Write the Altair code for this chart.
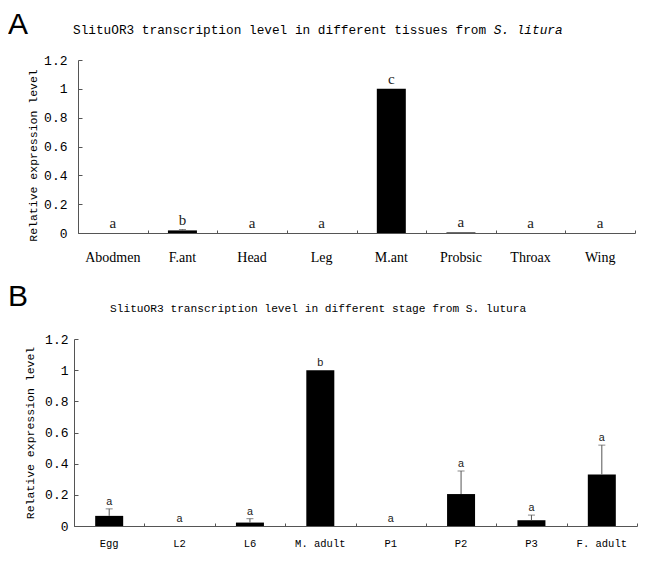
import altair as alt
import pandas as pd

# ---------------- data ----------------
tissues = ["Abodmen", "F.ant", "Head", "Leg", "M.ant", "Probsic", "Throax", "Wing"]
tissue_values = [0.0, 0.018, 0.0, 0.0, 1.0, 0.004, 0.0, 0.0]
tissue_errors = [0.0, 0.006, 0.0, 0.0, 0.0, 0.0, 0.0, 0.0]
tissue_letters = ["a", "b", "a", "a", "c", "a", "a", "a"]

stages = ["Egg", "L2", "L6", "M. adult", "P1", "P2", "P3", "F. adult"]
stage_values = [0.065, 0.0, 0.022, 1.0, 0.0, 0.205, 0.037, 0.331]
stage_errors = [0.045, 0.0, 0.025, 0.0, 0.0, 0.148, 0.033, 0.188]
stage_letters = ["a", "a", "a", "b", "a", "a", "a", "a"]

y_ticks = [0, 0.2, 0.4, 0.6, 0.8, 1.0, 1.2]

title_a_plain = "SlituOR3 transcription level in different tissues from "
title_a_italic = "S. litura"
title_b = "SlituOR3 transcription level in different stage from S. lutura"
y_title = "Relative expression level"

MONO = "Liberation Mono"
SERIF = "Liberation Serif"
AXC = "#555555"


def panel(cats, vals, errs, letters, width, height, bar_size, shift,
          xlab_font, xlab_size, xlab_pad, ylab_pad, ytitle_x, ytitle_y,
          let_font, let_size, let_dy, big, big_x, big_y, titles):
    df = pd.DataFrame({
        "cat": cats,
        "value": vals,
        "err": errs,
        "top": [v + e for v, e in zip(vals, errs)],
        "letter": letters,
    })
    base = alt.Chart(df)
    if shift:
        xscale = alt.Scale(paddingInner=0, paddingOuter=0, range=[-shift, width])
    else:
        xscale = alt.Scale(paddingInner=0, paddingOuter=0)
    yscale = alt.Scale(domain=[0, 1.2], nice=False, zero=True)

    x_main = alt.X("cat:N", sort=cats, scale=xscale, axis=alt.Axis(
        title=None, labelAngle=0, ticks=False, tickSize=0, domainColor=AXC,
        labelFont=xlab_font, labelFontSize=xlab_size, labelColor="#000",
        labelPadding=xlab_pad, grid=False))
    y_main = alt.Y("value:Q", scale=yscale, axis=alt.Axis(
        values=y_ticks, format="~g", title=y_title, ticks=False, tickSize=0,
        domainColor=AXC, grid=False, labelFont=MONO, labelFontSize=13,
        labelColor="#000", labelPadding=ylab_pad, titleFont=MONO,
        titleFontSize=11.5, titleFontWeight="normal", titleColor="#000",
        titleAngle=270, titleBaseline="middle", titleX=ytitle_x,
        titleY=ytitle_y, titleAlign="center", offset=shift))

    bars = base.mark_bar(size=bar_size, color="black").encode(x=x_main, y=y_main)

    x_none = alt.X("cat:N", sort=cats, scale=xscale, axis=None)
    err_rule = base.transform_filter("datum.err > 0").mark_rule(
        color=AXC, strokeWidth=1).encode(
        x=x_none, y=alt.Y("value:Q", scale=yscale, axis=None), y2="top:Q")
    err_cap = base.transform_filter("datum.err > 0").mark_tick(
        color=AXC, size=7, thickness=1).encode(
        x=x_none, y=alt.Y("top:Q", scale=yscale, axis=None))

    x_ticks = alt.X("cat:N", sort=cats, scale=xscale, axis=alt.Axis(
        orient="bottom", offset=-3, tickSize=3, tickColor=AXC, domain=False,
        labels=False, title=None, tickBand="extent", grid=False))
    y_tick_axis = alt.Y("top:Q", scale=yscale, axis=alt.Axis(
        orient="left", offset=shift - 4, tickSize=4, tickColor=AXC, domain=False,
        labels=False, title=None, values=y_ticks, grid=False))
    lett = base.mark_text(baseline="middle", dy=let_dy, font=let_font,
                          fontSize=let_size, color="#222").encode(
        x=x_ticks, y=y_tick_axis, text="letter:N")

    layers = [bars, err_rule, err_cap, lett]

    big_df = pd.DataFrame({"t": [big]})
    layers.append(alt.Chart(big_df).mark_text(
        align="left", baseline="middle", font="Liberation Sans", fontSize=30,
        color="#000").encode(x=alt.value(big_x), y=alt.value(big_y), text="t:N"))

    for txt, tx, ty, size, style in titles:
        tdf = pd.DataFrame({"t": [txt]})
        layers.append(alt.Chart(tdf).mark_text(
            align="left", baseline="middle", font=MONO, fontSize=size,
            fontStyle=style, color="#000").encode(
            x=alt.value(tx), y=alt.value(ty), text="t:N"))

    return alt.layer(*layers).properties(width=width, height=height).resolve_axis(
        x="independent", y="independent")


fa = 12.75
chart_a = panel(tissues, tissue_values, tissue_errors, tissue_letters,
                557, 173, 29, 0, SERIF, 14, 17, 11, -45, 95,
                SERIF, 15, -10, "A", -70, -35,
                [(title_a_plain, -5, -30, fa, "normal"),
                 (title_a_italic, -5 + len(title_a_plain) * fa * 0.6, -30, fa, "italic")])

chart_b = panel(stages, stage_values, stage_errors, stage_letters,
                559, 187, 28, 4, MONO, 10.5, 12, 6, -44, 93.5,
                MONO, 11, -7, "B", -70, -42,
                [(title_b, 32, -30, 11.2, "normal")])

chart = alt.concat(chart_a, chart_b, columns=1, align="none", spacing=18).properties(
    padding={"left": 0, "top": 2, "right": 0, "bottom": 0},
    background="white").configure_view(stroke=None)

chart.save("out.html", embed_options={"renderer": "svg", "actions": False})
